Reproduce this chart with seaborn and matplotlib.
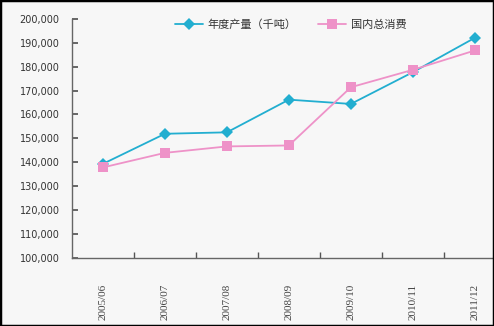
import matplotlib
matplotlib.use("Agg")
import matplotlib.pyplot as plt
import seaborn as sns
import pandas as pd
from matplotlib.ticker import FuncFormatter, FixedLocator
from matplotlib.patches import Rectangle

categories = ["2005/06", "2006/07", "2007/08", "2008/09", "2009/10", "2010/11", "2011/12"]
production = [139300, 151900, 152500, 166200, 164400, 177700, 192100]
consumption = [137800, 143900, 146600, 147000, 171400, 178700, 186800]
series_names = ["年度产量（千吨）", "国内总消费"]
yticks = list(range(100000, 200001, 10000))

df = pd.DataFrame({
    "year": categories * 2,
    "value": production + consumption,
    "series": [series_names[0]] * len(categories) + [series_names[1]] * len(categories),
})

sns.set_theme(style="white")
plt.rcParams["font.family"] = ["Noto Sans CJK SC", "DejaVu Sans"]

bg = "#f7f7f7"
fig = plt.figure(figsize=(4.94, 3.26), dpi=100, facecolor=bg)
ax = fig.add_axes([72 / 494, 1 - 257.6 / 326, (494 - 72) / 494, (257.6 - 19) / 326])
ax.set_facecolor(bg)

palette = {series_names[0]: "#22aed0", series_names[1]: "#ee92c8"}
sns.lineplot(data=df, x="year", y="value", hue="series", style="series",
             markers={series_names[0]: "D", series_names[1]: "s"},
             dashes=False, palette=palette, sort=False, ax=ax,
             linewidth=1.3, markersize=6.5, markeredgewidth=0)

ax.set_xlim(-0.5, 6.31)
ax.set_ylim(100000, 200000)
ax.set_yticks(yticks)
ax.yaxis.set_major_formatter(FuncFormatter(lambda v, p: f"{int(v):,}"))
ax.set_xlabel("")
ax.set_ylabel("")

for s in ["top", "right"]:
    ax.spines[s].set_visible(False)
for s in ["left", "bottom"]:
    ax.spines[s].set_color("#666666")
    ax.spines[s].set_linewidth(1.0)

ax.tick_params(axis="y", direction="in", length=4, color="#555555", labelsize=7,
               labelcolor="#333333", pad=9, left=True)
ax.tick_params(axis="x", which="major", length=0, labelsize=8, labelcolor="#444444",
               labelrotation=90, pad=19)
ax.xaxis.set_minor_locator(FixedLocator([i + 0.5 for i in range(6)]))
ax.tick_params(axis="x", which="minor", direction="in", length=4, color="#555555", bottom=True)
for lbl in ax.get_xticklabels():
    lbl.set_fontfamily(["Liberation Serif", "DejaVu Serif"])
for lbl in ax.get_yticklabels():
    lbl.set_fontfamily(["DejaVu Sans"])

leg = ax.legend(loc="upper left", bbox_to_anchor=(0.22, 1.04), ncol=2, frameon=False,
                fontsize=8, handlelength=2.5, columnspacing=2.0, handletextpad=0.4,
                labelcolor="#333333")

fig.patches.append(Rectangle((0, 0), 1, 1, transform=fig.transFigure, fill=False,
                             edgecolor="black", linewidth=2.5))

fig.savefig("out.png", dpi=100, facecolor=bg)
